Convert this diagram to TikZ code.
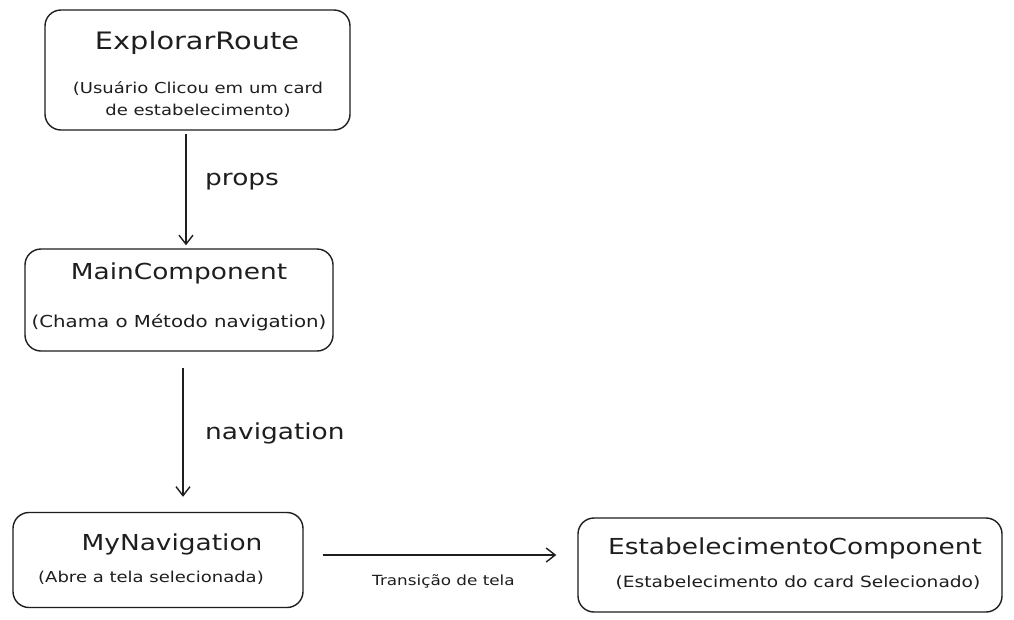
\documentclass[tikz,border=0pt]{standalone}
\usepackage{fontspec}
\setmainfont{DejaVu Sans}[FakeStretch=1.2]
\usetikzlibrary{arrows.meta,calc}
\definecolor{ink}{HTML}{1E1E1E}
\begin{document}
\begin{tikzpicture}[x=1pt,y=-1pt,
  card/.style={draw=ink,line width=1.4pt,rounded corners=16pt,align=center,
    inner sep=0pt,text=ink},
  ttl/.style={font=\fontsize{22}{26}\selectfont},
  sub/.style={font=\fontsize{15}{22}\selectfont},
  small/.style={font=\fontsize{14}{17}\selectfont},
  flow/.style={draw=ink,line width=1.4pt,
    -{Straight Barb[length=9pt,width=14pt,line width=1.4pt]}},
  lbl/.style={text=ink,inner sep=0pt}]
\useasboundingbox (0,0) rectangle (1014,619);
\fill[white] (0,0) rectangle (1014,619);

% component boxes
\node[card,minimum width=305pt,minimum height=120pt] (route) at (197.5,70) {};
\node[card,minimum width=308pt,minimum height=102pt] (main) at (179,300) {};
\node[card,minimum width=290pt,minimum height=95pt] (nav) at (158,560) {};
\node[card,minimum width=424pt,minimum height=94pt] (estab) at (790,565) {};

% box texts
\node[lbl,font=\fontsize{24}{28}\selectfont] (routeT) at (197,43) {ExplorarRoute};
\node[lbl,sub,align=center] (routeS) at (198,99) {(Usuário Clicou em um card\\de estabelecimento)};
\node[lbl,ttl] (mainT) at (179,273) {MainComponent};
\node[lbl,font=\fontsize{16.5}{20}\selectfont] (mainS) at (179,323) {(Chama o Método navigation)};
\node[lbl,ttl] (navT) at (172,544) {MyNavigation};
\node[lbl,sub] (navS) at (151,578) {(Abre a tela selecionada)};
\node[lbl,ttl] (estabT) at (795,548) {EstabelecimentoComponent};
\node[lbl,font=\fontsize{15.5}{20}\selectfont] (estabS) at (798,583) {(Estabelecimento do card Selecionado)};

% connectors
\coordinate (c1) at (186,0);
\coordinate (c2) at (183,0);
\coordinate (c3) at (0,555);
\draw[flow,shorten <=3pt,shorten >=3pt] (route.south -| c1) -- (main.north -| c1);
\draw[flow,shorten <=16pt,shorten >=15pt] (main.south -| c2) -- (nav.north -| c2);
\draw[flow,shorten <=19pt,shorten >=21pt] (nav.east |- c3) -- (estab.west |- c3);

% connector labels
\node[lbl,ttl,anchor=west] (propsL) at (205,182) {props};
\node[lbl,ttl,anchor=west] (navL) at (205,433) {navigation};
\node[lbl,small,anchor=west] (transL) at (372,581) {Transição de tela};
\end{tikzpicture}
\end{document}
